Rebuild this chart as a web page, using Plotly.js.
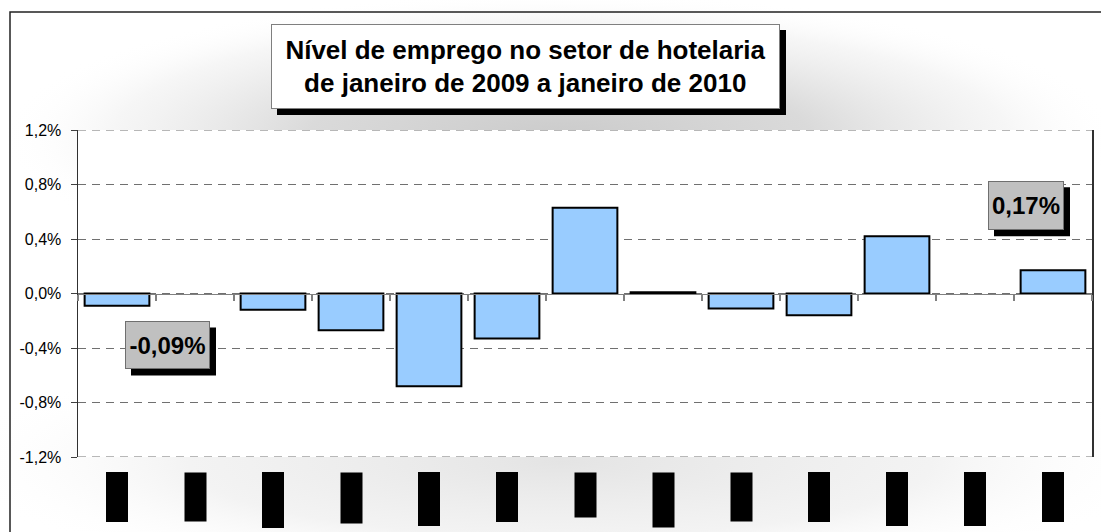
<!DOCTYPE html>
<html>
<head>
<meta charset="utf-8">
<script src="https://cdn.plot.ly/plotly-3.0.1.min.js"></script>
<style>html,body{margin:0;padding:0;background:#fff;}#chart{width:1101px;height:532px;}</style>
</head>
<body>
<div id="chart"></div>
<script>
// ---- data ----
const months = ['jan/09','fev/09','mar/09','abr/09','mai/09','jun/09','jul/09','ago/09','set/09','out/09','nov/09','dez/09','jan/10'];
const values = [-0.09, 0, -0.12, -0.27, -0.68, -0.33, 0.63, 0.01, -0.11, -0.16, 0.42, 0, 0.17];
const yTicks = [-1.2, -0.8, -0.4, 0, 0.4, 0.8, 1.2];
const titleLines = ['Nível de emprego no setor de hotelaria', 'de janeiro de 2009 a janeiro de 2010'];
const labelIdx = [0, 12];

// ---- geometry helpers (figure layout, not data) ----
const W = 1101, H = 532, ML = 78, MR = 9, MT = 130, MB = 75;
const PW = W - ML - MR, PH = H - MT - MB;
const px = v => (v - ML) / PW;
const py = v => (H - MB - v) / PH;
const FONT = 'Arial, "Liberation Sans", sans-serif';

function fmt(v, d){ return v.toFixed(d).replace('.', ',') + '%'; }

function background(){
  const c = document.createElement('canvas'); c.width = W; c.height = H;
  const g = c.getContext('2d');
  g.fillStyle = '#ffffff'; g.fillRect(0,0,W,H);
  g.save(); g.translate(560,138); g.scale(1,0.26);
  let r = g.createRadialGradient(0,0,0,0,0,560);
  r.addColorStop(0,'#cbcbcb'); r.addColorStop(0.45,'#dadada'); r.addColorStop(0.8,'rgba(240,240,240,0.6)'); r.addColorStop(1,'rgba(255,255,255,0)');
  g.fillStyle = r; g.fillRect(-700,-700,1400,1400); g.restore();
  g.save(); g.translate(560,462); g.scale(1,0.2);
  r = g.createRadialGradient(0,0,0,0,0,620);
  r.addColorStop(0,'#e4e4e4'); r.addColorStop(0.6,'rgba(238,238,238,0.7)'); r.addColorStop(1,'rgba(255,255,255,0)');
  g.fillStyle = r; g.fillRect(-700,-700,1400,1400); g.restore();
  g.fillStyle = '#ffffff'; g.fillRect(ML, MT, PW, PH);
  return c.toDataURL('image/png');
}

const trace = {
  type: 'bar', x: months, y: values,
  marker: {color: '#99ccff', line: {color: '#000000', width: values.map(v => v === 0 ? 0 : 2)}},
  hoverinfo: 'skip'
};

const annotations = [];
// title
annotations.push({
  xref: 'paper', yref: 'paper', x: px(525.5), y: py(66.5), xanchor: 'center', yanchor: 'middle',
  text: '<b>' + titleLines.join('<br>') + '</b>', showarrow: false,
  font: {family: FONT, size: 26, color: '#000'},
  bgcolor: '#ffffff', bordercolor: '#7f7f7f', borderwidth: 1, borderpad: 2,
  width: 503, height: 79, align: 'center'
});
// category labels (rendered as solid dark blocks, like the reference)
months.forEach(m => annotations.push({
  xref: 'x', yref: 'paper', x: m, y: py(472), xanchor: 'center', yanchor: 'top',
  text: m, textangle: -90, showarrow: false,
  font: {family: FONT, size: 17, color: '#000'}, bgcolor: '#000', borderpad: 1
}));
// data labels
const lblCfg = {0: {dx: 50.5, dy: -39.7, w: 79, h: 42}, 12: {dx: -27, dy: 64.6, w: 70, h: 43}};
const shapes = [];
labelIdx.forEach(i => {
  const c = lblCfg[i];
  annotations.push({
    xref: 'x', yref: 'y', x: months[i], y: values[i], xanchor: 'center', yanchor: 'middle',
    xshift: c.dx, yshift: c.dy, showarrow: false,
    text: '<b>' + fmt(values[i], 2) + '</b>',
    font: {family: FONT, size: 24, color: '#000'},
    bgcolor: '#c0c0c0', bordercolor: '#6f6f6f', borderwidth: 1, borderpad: 2,
    width: c.w, height: c.h
  });
  const ow = c.w + 6, oh = c.h + 6;
  shapes.push({
    type: 'rect', layer: 'above', xref: 'x', yref: 'y', xsizemode: 'pixel', ysizemode: 'pixel',
    xanchor: months[i], yanchor: values[i],
    x0: c.dx - ow/2 + 6, x1: c.dx + ow/2 + 6, y0: c.dy - oh/2 - 6, y1: c.dy + oh/2 - 6,
    fillcolor: '#000', line: {width: 0}
  });
});
// title shadow
shapes.push({type: 'rect', layer: 'above', xref: 'paper', yref: 'paper',
  x0: px(277), x1: px(786), y0: py(115), y1: py(30), fillcolor: '#000', line: {width: 0}});
// outer frame
shapes.push({type: 'rect', layer: 'above', xref: 'paper', yref: 'paper',
  x0: px(10), x1: px(1115), y0: py(560), y1: py(12), fillcolor: 'rgba(0,0,0,0)', line: {color: '#222', width: 1.5}});
// dashed gridlines at range edges
[yTicks[0], yTicks[yTicks.length-1]].forEach(v => shapes.push({type: 'line', layer: 'below', xref: 'paper', yref: 'y',
  x0: 0, x1: 1, y0: v, y1: v, line: {color: '#707070', width: 1, dash: '8px,6px'}}));

const layout = {
  width: W, height: H,
  margin: {l: ML, r: MR, t: MT, b: MB, pad: 0},
  paper_bgcolor: '#ffffff', plot_bgcolor: 'rgba(0,0,0,0)',
  separators: ',.',
  showlegend: false,
  bargap: 0.17,
  xaxis: {
    type: 'category', range: [-0.5, months.length - 0.5], anchor: 'free', position: 0.5,
    showticklabels: false, ticks: 'outside', tickson: 'boundaries', ticklen: 6, tickcolor: '#808080', tickwidth: 1.5,
    showline: true, linecolor: '#808080', linewidth: 1, showgrid: false, zeroline: false, fixedrange: true
  },
  yaxis: {
    range: [-1.2, 1.2], tickmode: 'array', tickvals: yTicks, ticktext: yTicks.map(v => fmt(v, 1)),
    ticks: 'outside', ticklen: 6, tickcolor: '#404040', ticklabelstandoff: 6,
    tickfont: {family: FONT, size: 16, color: '#000'},
    showline: true, mirror: true, linecolor: '#303030', linewidth: 1.5,
    showgrid: true, gridcolor: '#707070', gridwidth: 1, griddash: '8px,6px',
    zeroline: false, fixedrange: true
  },
  images: [{source: background(), xref: 'paper', yref: 'paper', x: px(0), y: py(0),
    sizex: W / PW, sizey: H / PH, xanchor: 'left', yanchor: 'top', sizing: 'stretch', layer: 'below'}],
  annotations: annotations,
  shapes: shapes
};

Plotly.newPlot('chart', [trace], layout, {staticPlot: true, displayModeBar: false});
</script>
</body>
</html>
